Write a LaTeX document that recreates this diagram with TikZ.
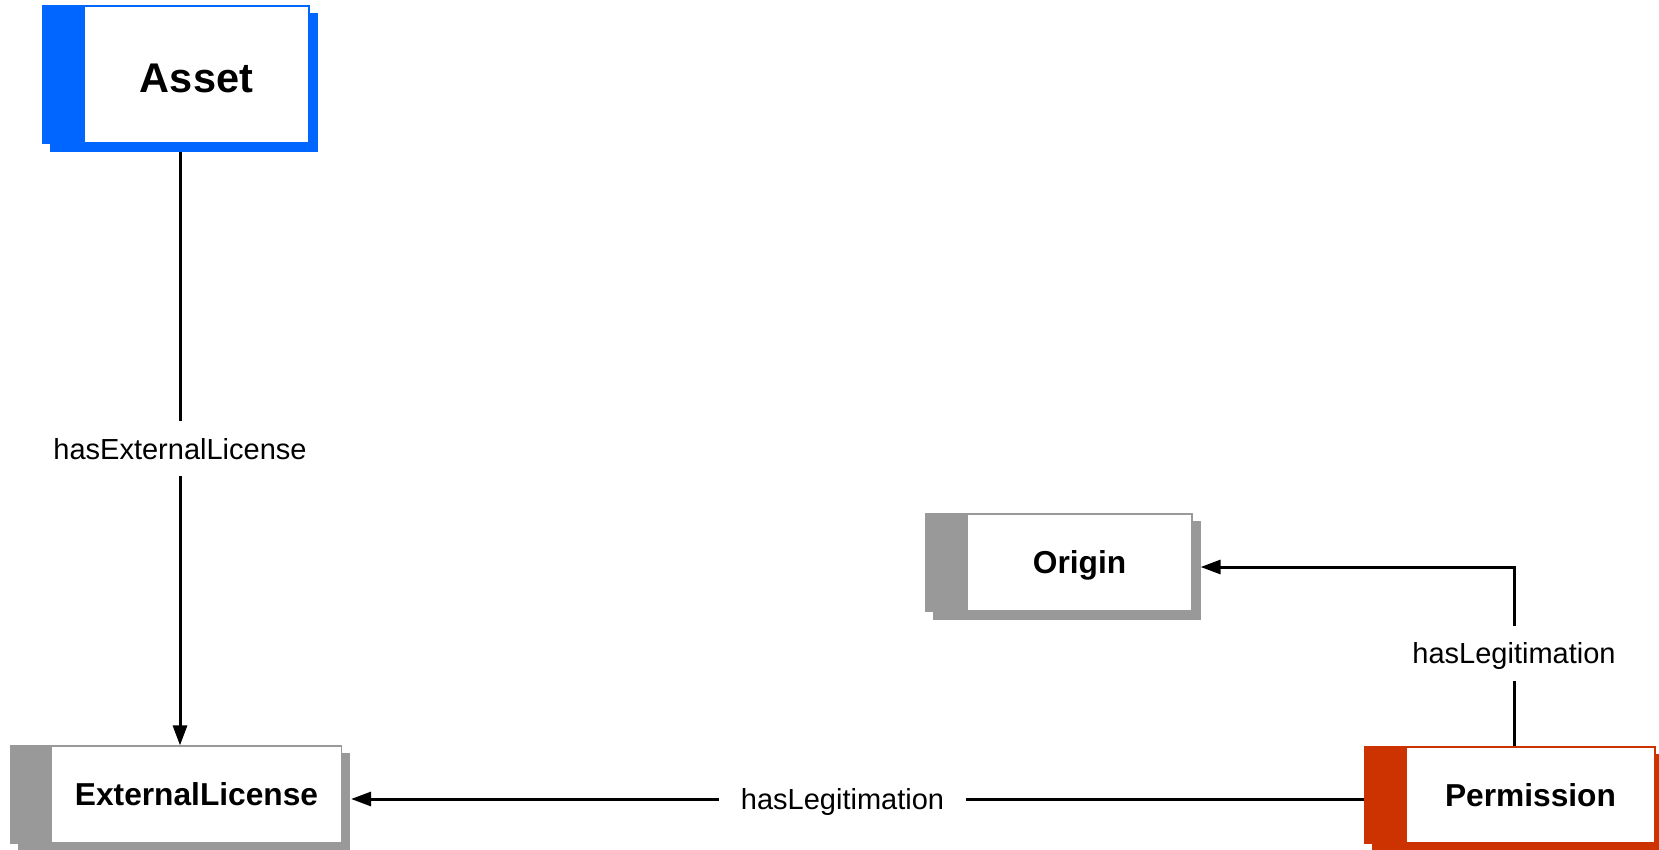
\documentclass[tikz,border=0pt]{standalone}
\usepackage{fontspec}
\setmainfont{Liberation Sans}
\usetikzlibrary{arrows.meta,backgrounds,calc}
\definecolor{blueC}{RGB}{0,102,255}
\definecolor{redC}{RGB}{204,51,0}
\definecolor{grayC}{RGB}{153,153,153}
\newcommand\cbdeco[2]{%
  \begin{scope}[on background layer]
    \fill[#2] ([xshift=-41pt]#1.north west) rectangle (#1.south west);
    \fill[#2] ([xshift=-33pt,yshift=-8pt]#1.north west) rectangle ([xshift=8pt,yshift=-8pt]#1.south east);
  \end{scope}}
\begin{document}
\begin{tikzpicture}[x=1pt,y=-1pt,
  cls/.style={draw, fill=white, line width=1.2pt, inner sep=0pt,
    text height=22.7pt, text depth=0pt,
    font=\fontsize{31.7}{38}\selectfont\bfseries},
  conn/.style={line width=3pt, -{Triangle[length=20pt,width=14pt]}},
  lbl/.style={fill=white, inner xsep=22pt, inner ysep=17pt, text height=21pt, text depth=0pt,
    font=\fontsize{29}{34}\selectfont}]
\useasboundingbox (0,0) rectangle (1659,850);
\begin{scope}[on background layer]
\fill[white] (0,0) rectangle (1659,850);
\end{scope}

\node[cls, draw=blueC, font=\fontsize{41.5}{48}\selectfont\bfseries, text height=35.7pt,
  minimum width=225, minimum height=137] (asset) at (196.5,74.5) {Asset};
\node[cls, draw=grayC, minimum width=290, minimum height=97] (elic) at (196.5,794.5) {ExternalLicense};
\node[cls, draw=grayC, minimum width=225, minimum height=97] (origin) at (1079.5,562.5) {Origin};
\node[cls, draw=redC, minimum width=249, minimum height=96] (perm) at (1530.5,795) {Permission};

\cbdeco{asset}{blueC}
\cbdeco{elic}{grayC}
\cbdeco{origin}{grayC}
\cbdeco{perm}{redC}

\draw[conn] ([xshift=-16.5pt,yshift=-8pt]asset.south) -- node[lbl, pos=0.5] {hasExternalLicense} ([xshift=-16.5pt]elic.north);
\draw[conn] ($(perm.north)+(-16.5,0)$) |- node[lbl, pos=0.26] {hasLegitimation} ($(origin.east)+(8,4.5)$);
\draw[conn] ($(perm.west)+(-41,4)$) -- node[lbl, pos=0.515] {hasLegitimation} ($(elic.east)+(9,4.5)$);
\end{tikzpicture}
\end{document}
